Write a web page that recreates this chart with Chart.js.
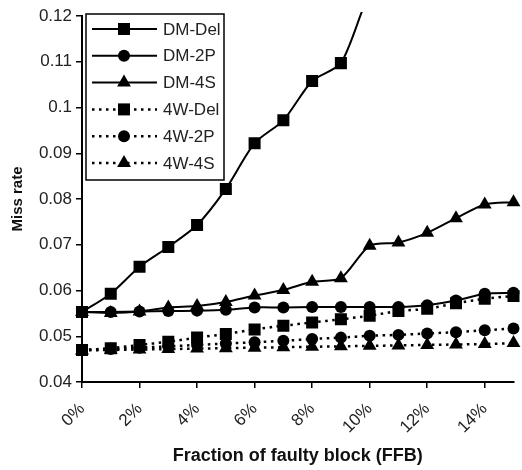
<!DOCTYPE html>
<html>
<head>
<meta charset="utf-8">
<script src="https://cdn.jsdelivr.net/npm/chart.js@4/dist/chart.umd.min.js"></script>
<style>
  body { margin: 0; background: #fff; }
  #wrap { width: 522px; height: 470px; }
</style>
</head>
<body>
<div id="wrap"><canvas id="chart"></canvas></div>
<script>
// fraction of faulty blocks, in percent
const ffb = [0, 1, 2, 3, 4, 5, 6, 7, 8, 9, 10, 11, 12, 13, 14, 15];

// miss rates per scheme (direct-mapped = DM, 4-way = 4W)
const dmDel = [0.0553, 0.0593, 0.0652, 0.0695, 0.0743, 0.0822, 0.0922, 0.0972, 0.1058, 0.1097, 0.125, 0.133, 0.141, 0.149, 0.157, 0.165];
const dm2P  = [0.0553, 0.0553, 0.0554, 0.0555, 0.0556, 0.0558, 0.0563, 0.0563, 0.0564, 0.0564, 0.0564, 0.0564, 0.0568, 0.0578, 0.0593, 0.0595];
const dm4S  = [0.0553, 0.0551, 0.0554, 0.0563, 0.0566, 0.0575, 0.0589, 0.0601, 0.0619, 0.0627, 0.0698, 0.0705, 0.0726, 0.0758, 0.0788, 0.0793];
const w4Del = [0.0470, 0.0474, 0.0481, 0.0488, 0.0497, 0.0505, 0.0515, 0.0523, 0.0530, 0.0537, 0.0545, 0.0555, 0.0560, 0.0572, 0.0582, 0.0588];
const w42P  = [0.0470, 0.0472, 0.0475, 0.0478, 0.0481, 0.0484, 0.0487, 0.0490, 0.0494, 0.0497, 0.0501, 0.0503, 0.0506, 0.0509, 0.0513, 0.0517];
const w44S  = [0.0469, 0.0470, 0.0471, 0.0472, 0.0473, 0.0474, 0.0475, 0.0476, 0.0477, 0.0478, 0.0479, 0.0480, 0.0481, 0.0482, 0.0483, 0.0485];

const seriesNames = ['DM-Del', 'DM-2P', 'DM-4S', '4W-Del', '4W-2P', '4W-4S'];

const font = "'Liberation Sans', Arial, sans-serif";

function toPoints(values) {
  return values.map((v, i) => ({ x: ffb[i], y: v }));
}

function series(name, values, style, dotted) {
  const radius = { rect: 8.5, circle: 6, triangle: 8 }[style];
  return {
    label: name,
    data: toPoints(values),
    borderColor: '#000',
    backgroundColor: '#000',
    borderWidth: dotted ? 2.5 : 2,
    borderDash: dotted ? [2.5, 4.5] : [],
    pointStyle: style,
    pointRadius: radius,
    pointBorderWidth: 0,
    tension: 0.25,
    clip: { left: 12, right: 12, top: 4, bottom: 12 }
  };
}

// boxed legend: line sample with marker, then the name
const boxLegend = {
  id: 'boxLegend',
  afterDraw(chart) {
    const ctx = chart.ctx;
    const left = 86, top = 14, width = 138, height = 166;
    ctx.save();
    ctx.fillStyle = '#fff';
    ctx.fillRect(left, top, width, height);
    ctx.beginPath();
    ctx.rect(left, top, width, height);
    ctx.clip();
    chart.data.datasets.forEach((ds, i) => {
      const y = top + 15 + i * 26.8;
      ctx.strokeStyle = '#000';
      ctx.lineWidth = ds.borderWidth;
      ctx.setLineDash(ds.borderDash);
      ctx.beginPath();
      ctx.moveTo(left + 6, y);
      ctx.lineTo(left + 71, y);
      ctx.stroke();
      ctx.setLineDash([]);
      drawMarker(ctx, ds.pointStyle, left + 38, y, ds.pointRadius);
      ctx.fillStyle = '#222';
      ctx.font = '17px ' + font;
      ctx.textBaseline = 'middle';
      ctx.textAlign = 'left';
      ctx.fillText(ds.label, left + 77, y + 1);
    });
    ctx.restore();
    ctx.save();
    ctx.strokeStyle = '#000';
    ctx.lineWidth = 1.5;
    ctx.strokeRect(left, top, width, height);
    ctx.restore();
  }
};

function drawMarker(ctx, style, x, y, r) {
  ctx.fillStyle = '#000';
  ctx.beginPath();
  if (style === 'rect') {
    const s = Math.SQRT1_2 * r;
    ctx.rect(x - s, y - s, 2 * s, 2 * s);
  } else if (style === 'circle') {
    ctx.arc(x, y, r, 0, Math.PI * 2);
  } else {
    ctx.moveTo(x, y - r);
    ctx.lineTo(x + r * Math.sin(Math.PI / 3), y + r / 2);
    ctx.lineTo(x - r * Math.sin(Math.PI / 3), y + r / 2);
    ctx.closePath();
  }
  ctx.fill();
}

const ctx = document.querySelector('#chart').getContext('2d');
const chartobj = new Chart(ctx, {
  type: 'line',
  data: {
    datasets: [
      series(seriesNames[0], dmDel, 'rect', false),
      series(seriesNames[1], dm2P, 'circle', false),
      series(seriesNames[2], dm4S, 'triangle', false),
      series(seriesNames[3], w4Del, 'rect', true),
      series(seriesNames[4], w42P, 'circle', true),
      series(seriesNames[5], w44S, 'triangle', true)
    ]
  },
  options: {
    responsive: true,
    maintainAspectRatio: false,
    animation: false,
    layout: { padding: { top: 16, right: 7, left: 0, bottom: 0 } },
    plugins: {
      legend: { display: false },
      tooltip: { enabled: false }
    },
    scales: {
      x: {
        type: 'linear',
        min: 0,
        max: 15,
        afterFit: (scale) => { scale.height = 88; },
        grid: { drawOnChartArea: false, tickLength: 6, color: '#000', lineWidth: 1.5 },
        border: { color: '#000', width: 2 },
        ticks: {
          stepSize: 2,
          includeBounds: false,
          maxRotation: 45,
          minRotation: 45,
          padding: 11,
          color: '#222',
          font: { family: font, size: 17 },
          callback: (v) => v + '%'
        },
        title: {
          display: true,
          text: 'Fraction of faulty block (FFB)',
          color: '#111',
          font: { family: font, size: 18, weight: 'bold' },
          padding: { top: 2, bottom: 3 }
        }
      },
      y: {
        min: 0.04,
        max: 0.12,
        afterFit: (scale) => { scale.width = 82; },
        grid: { drawOnChartArea: false, tickLength: 6, color: '#000', lineWidth: 1.5 },
        border: { color: '#000', width: 2 },
        ticks: {
          stepSize: 0.01,
          padding: 4,
          color: '#222',
          font: { family: font, size: 17 },
          callback: (v) => String(Number(v.toFixed(2)))
        },
        title: {
          display: true,
          text: 'Miss rate',
          color: '#111',
          font: { family: font, size: 15, weight: 'bold' },
          padding: { top: 9, bottom: 0 }
        }
      }
    }
  },
  plugins: [boxLegend]
});
</script>
</body>
</html>
